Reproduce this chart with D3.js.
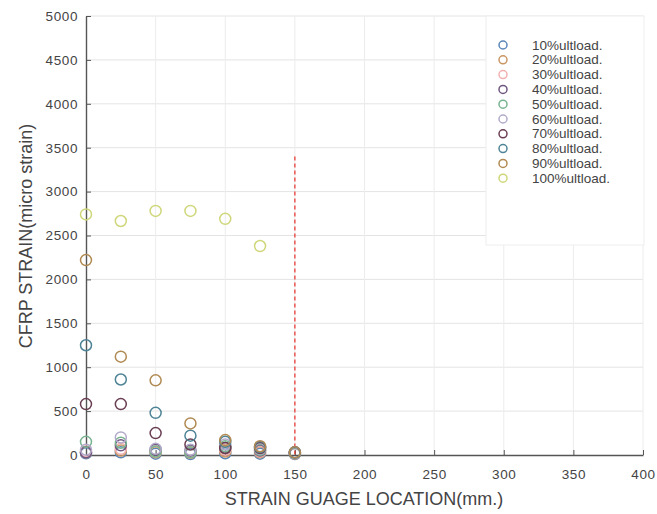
<!DOCTYPE html>
<html>
<head>
<meta charset="utf-8">
<script src="https://cdn.jsdelivr.net/npm/d3@7"></script>
<style>
  html, body { margin: 0; padding: 0; background: #fff; }
  svg { display: block; font-family: "Liberation Sans", Arial, sans-serif; }
</style>
</head>
<body>
<svg id="chart" width="657" height="514"></svg>
<script>
// Gauge positions along the CFRP strip (mm)
const locations = [0, 25, 50, 75, 100, 125, 150];

// Load stages
const seriesNames = ["10%ultload.", "20%ultload.", "30%ultload.", "40%ultload.", "50%ultload.",
                     "60%ultload.", "70%ultload.", "80%ultload.", "90%ultload.", "100%ultload."];

// Measured CFRP strain (micro strain) per gauge, one array per load stage
const s10  = [20, 30, 15, 10, 20, 15, 10];
const s20  = [30, 50, 30, 25, 40, 30, 15];
const s30  = [40, 70, 40, 35, 60, 40, 15];
const s40  = [30, 110, 60, 50, 80, 50, 20];
const s50  = [150, 140, 40, 30, 100, 60, 20];
const s60  = [60, 200, 70, 60, 120, 70, 25];
const s70  = [580, 580, 250, 120, 80, 80, 30];
const s80  = [1250, 860, 480, 220, 150, 90, 30];
const s90  = [2220, 1120, 850, 360, 170, 100, 30];
const s100 = [2740, 2665, 2780, 2780, 2690, 2380, null];
const seriesValues = [s10, s20, s30, s40, s50, s60, s70, s80, s90, s100];

const seriesColors = ["#5b86b8", "#c99664", "#f2b0b0", "#6f5680", "#78b48f",
                      "#b3aacb", "#6a3e52", "#4f8496", "#b08a52", "#cfd77a"];

const xTicks = [0, 50, 100, 150, 200, 250, 300, 350, 400];
const yTicks = [0, 500, 1000, 1500, 2000, 2500, 3000, 3500, 4000, 4500, 5000];

// Reference line marking the end of the bonded length
const refLineX = 150;
const refLineTop = 3400;

const svg = d3.select("#chart");
const x = d3.scaleLinear().domain([0, 400]).range([86, 643]);
const y = d3.scaleLinear().domain([0, 5000]).range([455, 16]);

// grid
const grid = svg.append("g");
grid.selectAll("line.h").data(yTicks.slice(1)).join("line")
  .attr("x1", x(0)).attr("x2", x(400))
  .attr("y1", d => y(d)).attr("y2", d => y(d))
  .attr("stroke", "#e4e4e4").attr("stroke-width", 1);
grid.selectAll("line.v").data(xTicks.slice(1)).join("line")
  .attr("x1", d => x(d)).attr("x2", d => x(d))
  .attr("y1", y(0)).attr("y2", y(5000))
  .attr("stroke", "#ececec").attr("stroke-width", 1);

// axes
const xAxis = svg.append("g").attr("transform", `translate(0,${y(0)})`)
  .call(d3.axisBottom(x).tickValues(xTicks).tickFormat(d3.format("d"))
    .tickSizeInner(-5).tickSizeOuter(0).tickPadding(14));
const yAxis = svg.append("g").attr("transform", `translate(${x(0)},0)`)
  .call(d3.axisLeft(y).tickValues(yTicks).tickFormat(d3.format("d"))
    .tickSizeInner(-5).tickSizeOuter(0).tickPadding(8));
[xAxis, yAxis].forEach(g => {
  g.select(".domain").attr("stroke", "#555").attr("stroke-width", 1.4);
  g.selectAll(".tick line").attr("stroke", "#555");
  g.selectAll(".tick text").attr("fill", "#444").style("font-size", "13.5px")
    .style("letter-spacing", "0.6px")
    .style("font-family", "'Liberation Sans', Arial, sans-serif");
});

// axis titles
svg.append("text").attr("x", 364).attr("y", 505).attr("text-anchor", "middle")
  .attr("fill", "#444").style("font-size", "18px").text("STRAIN GUAGE LOCATION(mm.)");
svg.append("text").attr("transform", "translate(32,236) rotate(-90)").attr("text-anchor", "middle")
  .attr("fill", "#444").style("font-size", "18px").text("CFRP STRAIN(micro strain)");

// reference dashed line
svg.append("line")
  .attr("x1", x(refLineX)).attr("x2", x(refLineX))
  .attr("y1", y(refLineTop)).attr("y2", y(0))
  .attr("stroke", "#e8302a").attr("stroke-width", 1.2).attr("stroke-dasharray", "4,3");

// markers
const pts = svg.append("g");
seriesValues.forEach((vals, i) => {
  const data = locations.map((loc, j) => ({ loc, v: vals[j] })).filter(d => d.v != null);
  pts.selectAll(null).data(data).join("circle")
    .attr("cx", d => x(d.loc)).attr("cy", d => y(d.v)).attr("r", 5.5)
    .attr("fill", "none").attr("stroke", seriesColors[i]).attr("stroke-width", 1.5);
});

// legend
const legend = svg.append("g");
legend.append("rect").attr("x", 486).attr("y", 16).attr("width", 158).attr("height", 229)
  .attr("fill", "#fff").attr("stroke", "#eeeeee");
seriesNames.forEach((name, i) => {
  const ly = 45 + i * 14.8;
  legend.append("circle").attr("cx", 503).attr("cy", ly).attr("r", 4)
    .attr("fill", "none").attr("stroke", seriesColors[i]).attr("stroke-width", 1.5);
  legend.append("text").attr("x", 532).attr("y", ly + 4.5)
    .attr("fill", "#444").style("font-size", "13.5px").text(name);
});
</script>
</body>
</html>
